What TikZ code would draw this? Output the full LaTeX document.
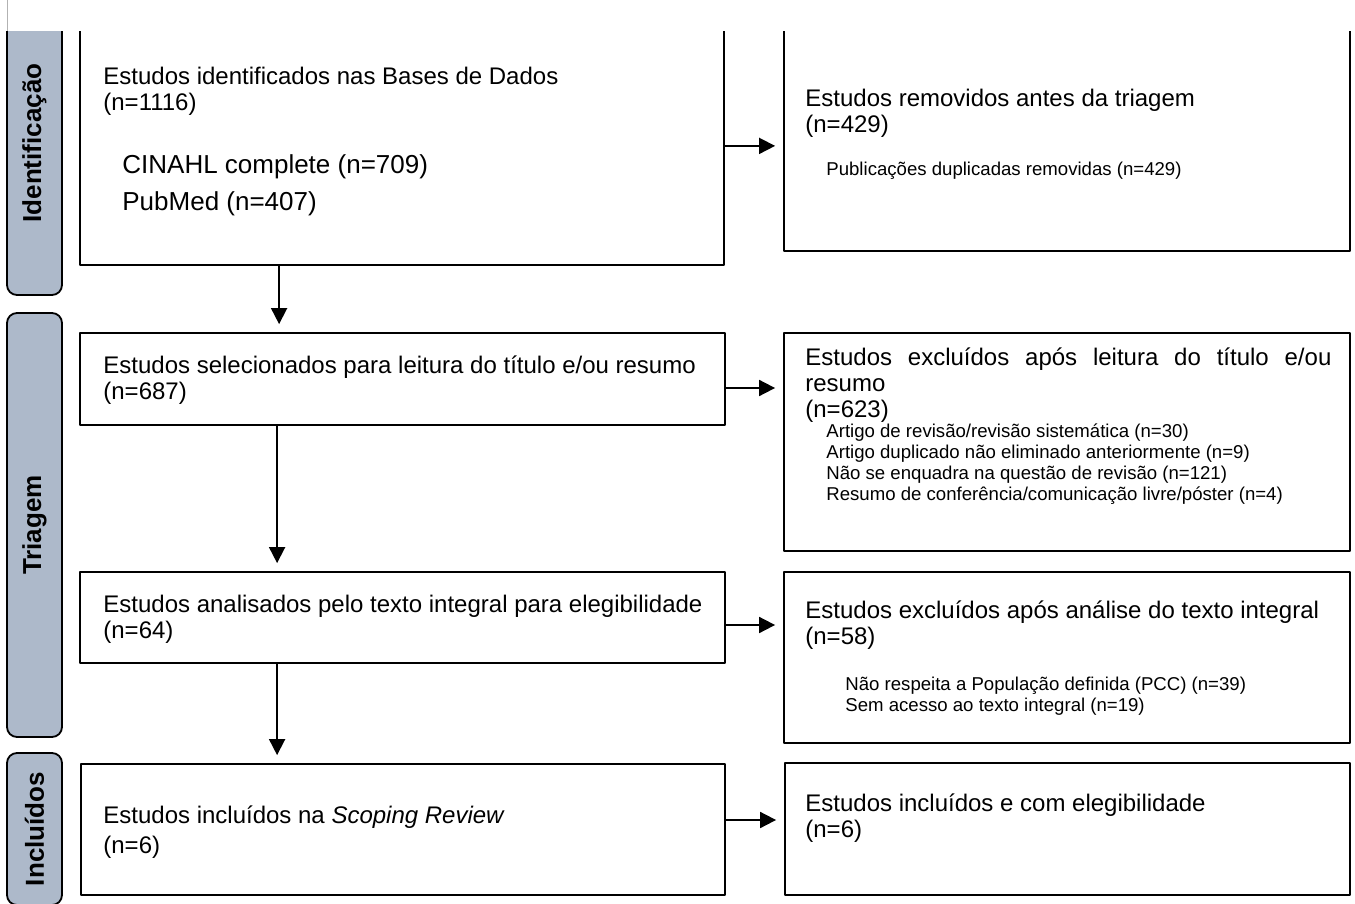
\documentclass[tikz,border=0pt]{standalone}
\usepackage{fontspec}
\setmainfont{Liberation Sans}
\usetikzlibrary{arrows.meta,fit}
\definecolor{phasefill}{HTML}{ADB9CA}
\hyphenpenalty=10000

\begin{document}
\begin{tikzpicture}[x=0.5pt, y=-0.5pt, line join=round,
    box/.style={draw, line width=0.9pt, inner sep=0pt},
    phase/.style={draw, line width=0.9pt, fill=phasefill, rounded corners=5pt, rotate=90,
      minimum height=27.5pt, inner sep=0pt, font=\fontsize{13}{14}\selectfont\bfseries},
    txt/.style={anchor=base west, inner sep=0pt, text width=310pt, align=flush left,
      font=\fontsize{12}{13}\selectfont},
    small/.style={anchor=base west, inner sep=0pt, text width=260pt, align=flush left,
      font=\fontsize{9.3}{10.5}\selectfont},
    arr/.style={line width=0.9pt, shorten >=4pt, -{Triangle[length=8pt, width=8pt]}}]
  \useasboundingbox (0,0) rectangle (1355,904);

  % thin line left over at the top
  \draw[gray!60, line width=0.4pt] (7,0) -- (7,32);

  \begin{scope}
  \clip (0,32) rectangle (1355,904);

  % Phase bars
  \node[phase, minimum width=152pt] (ident) at (34.5,143) {Identificação};
  \node[phase, minimum width=212pt] (triag) at (34.5,525) {Triagem};
  \node[phase, minimum width=76pt] (inclu) at (34.5,829) {Incluídos};

  % Boxes
  \node[box, fit={(80,-10) (724,265)}] (idn) {};
  \node[box, fit={(784,-10) (1350,251)}] (rem) {};
  \node[box, fit={(80,333) (725,425)}] (sel) {};
  \node[box, fit={(784,333) (1350,551)}] (exc) {};
  \node[box, fit={(80,572) (725,663)}] (ana) {};
  \node[box, fit={(784,572) (1350,743)}] (exf) {};
  \node[box, fit={(81,764) (725,895)}] (inc) {};
  \node[box, fit={(785,763) (1350,895)}] (eleg) {};

  % Box texts
  \node[txt] (idnT) at (103,85) {Estudos identificados nas Bases de Dados\\(n=1116)};
  \node[txt, font=\fontsize{13}{18.5}\selectfont] (dbT) at (122,174) {CINAHL complete (n=709)\\PubMed (n=407)};
  \node[txt, text width=270pt] (remT) at (805,107) {Estudos removidos antes da triagem\\(n=429)};
  \node[small] (remL) at (826,176) {Publicações duplicadas removidas (n=429)};
  \node[txt] (selT) at (103,373) {Estudos selecionados para leitura do título e/ou resumo\\(n=687)};
  \node[txt, text width=263pt, align=justify] (excT) at (805,365) {Estudos excluídos após leitura do título e/ou resumo\\(n=623)};
  \node[small] (excL) at (826,437) {Artigo de revisão/revisão sistemática (n=30)\\Artigo duplicado não eliminado anteriormente (n=9)\\Não se enquadra na questão de revisão (n=121)\\Resumo de conferência/comunicação livre/póster (n=4)};
  \node[txt] (anaT) at (103,612) {Estudos analisados pelo texto integral para elegibilidade\\(n=64)};
  \node[txt, text width=270pt] (exfT) at (805,618) {Estudos excluídos após análise do texto integral\\(n=58)};
  \node[small] (exfL) at (845,690) {Não respeita a População definida (PCC) (n=39)\\Sem acesso ao texto integral (n=19)};
  \node[txt] (incT) at (103,823) {Estudos incluídos na \textit{Scoping Review}\\[2pt](n=6)};
  \node[txt, text width=270pt] (elegT) at (805,811) {Estudos incluídos e com elegibilidade\\(n=6)};

  % Arrows down
  \draw[arr] ([xshift=100pt]idn.south west) -- ([xshift=100pt]sel.north west);
  \draw[arr] ([xshift=99pt]sel.south west) -- ([xshift=99pt]ana.north west);
  \draw[arr] ([xshift=99pt]ana.south west) -- ([xshift=98.5pt]inc.north west);

  % Arrows right
  \draw[arr] ([yshift=60pt]idn.south east) -- ([yshift=60pt]idn.south east -| rem.west);
  \draw[arr] ([yshift=-4.5pt]sel.east) -- ([yshift=-4.5pt]sel.east -| exc.west);
  \draw[arr] ([yshift=-3.75pt]ana.east) -- ([yshift=-3.75pt]ana.east -| exf.west);
  \draw[arr] ([yshift=4.75pt]inc.east) -- ([yshift=4.75pt]inc.east -| eleg.west);
  \end{scope}
\end{tikzpicture}
\end{document}
